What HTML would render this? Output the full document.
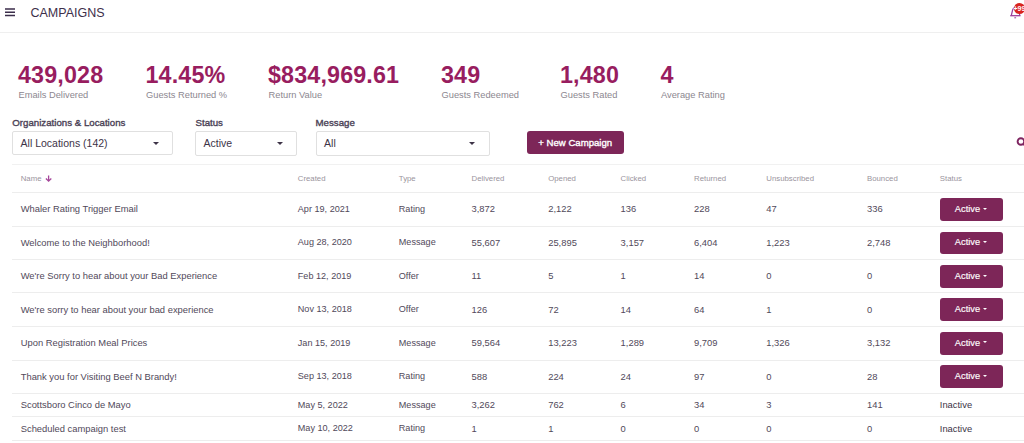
<!DOCTYPE html>
<html><head><meta charset="utf-8"><title>Campaigns</title>
<style>
html,body{margin:0;padding:0;background:#fff;}
body{width:1024px;height:443px;overflow:hidden;position:relative;font-family:"Liberation Sans",sans-serif;}
.t{position:absolute;line-height:1;white-space:nowrap;}
.b{position:absolute;}
</style></head><body>
<div class="b" style="left:0px;top:32px;width:1024px;height:1px;background:#efefef"></div>
<svg class="b" style="left:0;top:0" width="20" height="20" viewBox="0 0 20 20"><path d="M5 9H15M5 12.2H15M5 15.4H15" stroke="#3b2d4a" stroke-width="1.5"/></svg>
<div class="t" style="left:30.50px;top:6.72px;font-size:12.5px;color:#3d2f4a;">CAMPAIGNS</div>
<svg class="b" style="left:1000px;top:0px" width="24" height="24" viewBox="0 0 24 24"><path d="M11.3 15.5 L12.6 10 Q13.2 7.6 15 7.6 L18.5 9 L19.8 15.5" fill="none" stroke="#9b3d9a" stroke-width="1.2"/><path d="M10.2 15.7 H20.5" stroke="#9b3d9a" stroke-width="1.3"/><path d="M14.3 17.8 h1.8" stroke="#9b3d9a" stroke-width="1"/></svg>
<div class="b" style="left:1014px;top:2.5px;width:11px;height:11px;border-radius:50%;background:#d8231f"></div>
<div class="t" style="left:1013.50px;top:5.27px;font-size:7px;color:#fff;font-weight:bold;">+99</div>
<div class="t" style="left:18.00px;top:63.58px;font-size:23.3px;color:#981d5f;font-weight:bold;letter-spacing:0.15px;">439,028</div>
<div class="t" style="left:18.50px;top:90.73px;font-size:9.3px;color:#8c8790;">Emails Delivered</div>
<div class="t" style="left:145.50px;top:63.58px;font-size:23.3px;color:#981d5f;font-weight:bold;letter-spacing:0.15px;">14.45%</div>
<div class="t" style="left:146.00px;top:90.73px;font-size:9.3px;color:#8c8790;">Guests Returned %</div>
<div class="t" style="left:268.00px;top:63.58px;font-size:23.3px;color:#981d5f;font-weight:bold;letter-spacing:0.15px;">$834,969.61</div>
<div class="t" style="left:268.50px;top:90.73px;font-size:9.3px;color:#8c8790;">Return Value</div>
<div class="t" style="left:441.00px;top:63.58px;font-size:23.3px;color:#981d5f;font-weight:bold;letter-spacing:0.15px;">349</div>
<div class="t" style="left:441.50px;top:90.73px;font-size:9.3px;color:#8c8790;">Guests Redeemed</div>
<div class="t" style="left:560.00px;top:63.58px;font-size:23.3px;color:#981d5f;font-weight:bold;letter-spacing:0.15px;">1,480</div>
<div class="t" style="left:560.50px;top:90.73px;font-size:9.3px;color:#8c8790;">Guests Rated</div>
<div class="t" style="left:660.50px;top:63.58px;font-size:23.3px;color:#981d5f;font-weight:bold;letter-spacing:0.15px;">4</div>
<div class="t" style="left:661.00px;top:90.73px;font-size:9.3px;color:#8c8790;">Average Rating</div>
<div class="t" style="left:12.30px;top:117.89px;font-size:9.7px;color:#4a3f55;-webkit-text-stroke:0.35px #4a3f55;">Organizations &amp; Locations</div>
<div class="t" style="left:195.50px;top:117.89px;font-size:9.7px;color:#4a3f55;-webkit-text-stroke:0.35px #4a3f55;">Status</div>
<div class="t" style="left:315.50px;top:117.89px;font-size:9.7px;color:#4a3f55;-webkit-text-stroke:0.35px #4a3f55;">Message</div>
<div class="b" style="left:12px;top:131px;width:161px;height:23.5px;border:1px solid #e0e0e0;border-radius:2px;box-sizing:border-box"></div>
<div class="t" style="left:20.60px;top:138.11px;font-size:10.5px;color:#3d3347;">All Locations (142)</div>
<div class="b" style="left:152.7px;top:142px;width:0;height:0;border-left:3.3px solid transparent;border-right:3.3px solid transparent;border-top:3.5px solid #3d3347"></div>
<div class="b" style="left:195px;top:131px;width:102px;height:24.5px;border:1px solid #e0e0e0;border-radius:2px;box-sizing:border-box"></div>
<div class="t" style="left:203.60px;top:138.11px;font-size:10.5px;color:#3d3347;">Active</div>
<div class="b" style="left:276.7px;top:142px;width:0;height:0;border-left:3.3px solid transparent;border-right:3.3px solid transparent;border-top:3.5px solid #3d3347"></div>
<div class="b" style="left:315.5px;top:131px;width:174px;height:25px;border:1px solid #e0e0e0;border-radius:2px;box-sizing:border-box"></div>
<div class="t" style="left:324.10px;top:138.11px;font-size:10.5px;color:#3d3347;">All</div>
<div class="b" style="left:469.2px;top:142px;width:0;height:0;border-left:3.3px solid transparent;border-right:3.3px solid transparent;border-top:3.5px solid #3d3347"></div>
<div class="b" style="left:527px;top:131px;width:96.5px;height:23px;background:#7d2658;border-radius:3px"></div>
<div class="t" style="left:538.30px;top:137.87px;font-size:9.6px;color:#fff;-webkit-text-stroke:0.35px #fff;">+ New Campaign</div>
<svg class="b" style="left:1010px;top:130px" width="14" height="24" viewBox="0 0 14 24"><circle cx="10.9" cy="11.5" r="3.3" fill="none" stroke="#7e2460" stroke-width="1.9"/><path d="M13.2 13.8 L16 16.6" stroke="#7e2460" stroke-width="2"/></svg>
<div class="b" style="left:12px;top:164px;width:1012px;height:1px;background:#f1f1f1"></div>
<div class="b" style="left:12px;top:192px;width:1012px;height:1px;background:#ededed"></div>
<div class="b" style="left:12px;top:226px;width:1012px;height:1px;background:#ededed"></div>
<div class="b" style="left:12px;top:259px;width:1012px;height:1px;background:#ededed"></div>
<div class="b" style="left:12px;top:292px;width:1012px;height:1px;background:#ededed"></div>
<div class="b" style="left:12px;top:326px;width:1012px;height:1px;background:#ededed"></div>
<div class="b" style="left:12px;top:360px;width:1012px;height:1px;background:#ededed"></div>
<div class="b" style="left:12px;top:393px;width:1012px;height:1px;background:#ededed"></div>
<div class="b" style="left:12px;top:416px;width:1012px;height:1px;background:#ededed"></div>
<div class="b" style="left:12px;top:440px;width:1012px;height:1px;background:#ededed"></div>
<div class="t" style="left:20.70px;top:175.00px;font-size:7.8px;color:#9a949d;">Name</div>
<div class="t" style="left:297.80px;top:175.00px;font-size:7.8px;color:#9a949d;">Created</div>
<div class="t" style="left:398.80px;top:175.00px;font-size:7.8px;color:#9a949d;">Type</div>
<div class="t" style="left:471.50px;top:175.00px;font-size:7.8px;color:#9a949d;">Delivered</div>
<div class="t" style="left:548.20px;top:175.00px;font-size:7.8px;color:#9a949d;">Opened</div>
<div class="t" style="left:620.60px;top:175.00px;font-size:7.8px;color:#9a949d;">Clicked</div>
<div class="t" style="left:694.00px;top:175.00px;font-size:7.8px;color:#9a949d;">Returned</div>
<div class="t" style="left:766.30px;top:175.00px;font-size:7.8px;color:#9a949d;">Unsubscribed</div>
<div class="t" style="left:867.00px;top:175.00px;font-size:7.8px;color:#9a949d;">Bounced</div>
<div class="t" style="left:939.80px;top:175.00px;font-size:7.8px;color:#9a949d;">Status</div>
<svg class="b" style="left:45px;top:174.5px" width="8" height="8" viewBox="0 0 8 8"><path d="M3.6 0.6 V6.1 M0.9 3.5 L3.6 6.2 L6.3 3.5" fill="none" stroke="#a5479a" stroke-width="1.3"/></svg>
<div class="t" style="left:20.70px;top:204.34px;font-size:9.4px;color:#51495a;">Whaler Rating Trigger Email</div>
<div class="t" style="left:297.80px;top:204.60px;font-size:9.1px;color:#51495a;">Apr 19, 2021</div>
<div class="t" style="left:398.80px;top:204.60px;font-size:9.1px;color:#51495a;">Rating</div>
<div class="t" style="left:471.50px;top:204.34px;font-size:9.4px;color:#51495a;">3,872</div>
<div class="t" style="left:548.20px;top:204.34px;font-size:9.4px;color:#51495a;">2,122</div>
<div class="t" style="left:620.60px;top:204.34px;font-size:9.4px;color:#51495a;">136</div>
<div class="t" style="left:694.00px;top:204.34px;font-size:9.4px;color:#51495a;">228</div>
<div class="t" style="left:766.30px;top:204.34px;font-size:9.4px;color:#51495a;">47</div>
<div class="t" style="left:867.00px;top:204.34px;font-size:9.4px;color:#51495a;">336</div>
<div class="b" style="left:940px;top:197.9px;width:63px;height:22.8px;background:#7d2658;border-radius:3px"></div>
<div class="t" style="left:954.80px;top:204.63px;font-size:9.3px;color:#fff;-webkit-text-stroke:0.15px #fff;">Active</div>
<div class="b" style="left:982.8px;top:207.5px;width:0;height:0;border-left:2.6px solid transparent;border-right:2.6px solid transparent;border-top:2.6px solid #fff"></div>
<div class="t" style="left:20.70px;top:237.94px;font-size:9.4px;color:#51495a;">Welcome to the Neighborhood!</div>
<div class="t" style="left:297.80px;top:238.20px;font-size:9.1px;color:#51495a;">Aug 28, 2020</div>
<div class="t" style="left:398.80px;top:238.20px;font-size:9.1px;color:#51495a;">Message</div>
<div class="t" style="left:471.50px;top:237.94px;font-size:9.4px;color:#51495a;">55,607</div>
<div class="t" style="left:548.20px;top:237.94px;font-size:9.4px;color:#51495a;">25,895</div>
<div class="t" style="left:620.60px;top:237.94px;font-size:9.4px;color:#51495a;">3,157</div>
<div class="t" style="left:694.00px;top:237.94px;font-size:9.4px;color:#51495a;">6,404</div>
<div class="t" style="left:766.30px;top:237.94px;font-size:9.4px;color:#51495a;">1,223</div>
<div class="t" style="left:867.00px;top:237.94px;font-size:9.4px;color:#51495a;">2,748</div>
<div class="b" style="left:940px;top:231.5px;width:63px;height:22.8px;background:#7d2658;border-radius:3px"></div>
<div class="t" style="left:954.80px;top:238.23px;font-size:9.3px;color:#fff;-webkit-text-stroke:0.15px #fff;">Active</div>
<div class="b" style="left:982.8px;top:241.1px;width:0;height:0;border-left:2.6px solid transparent;border-right:2.6px solid transparent;border-top:2.6px solid #fff"></div>
<div class="t" style="left:20.70px;top:271.39px;font-size:9.4px;color:#51495a;">We&#39;re Sorry to hear about your Bad Experience</div>
<div class="t" style="left:297.80px;top:271.65px;font-size:9.1px;color:#51495a;">Feb 12, 2019</div>
<div class="t" style="left:398.80px;top:271.65px;font-size:9.1px;color:#51495a;">Offer</div>
<div class="t" style="left:471.50px;top:271.39px;font-size:9.4px;color:#51495a;">11</div>
<div class="t" style="left:548.20px;top:271.39px;font-size:9.4px;color:#51495a;">5</div>
<div class="t" style="left:620.60px;top:271.39px;font-size:9.4px;color:#51495a;">1</div>
<div class="t" style="left:694.00px;top:271.39px;font-size:9.4px;color:#51495a;">14</div>
<div class="t" style="left:766.30px;top:271.39px;font-size:9.4px;color:#51495a;">0</div>
<div class="t" style="left:867.00px;top:271.39px;font-size:9.4px;color:#51495a;">0</div>
<div class="b" style="left:940px;top:264.9px;width:63px;height:22.8px;background:#7d2658;border-radius:3px"></div>
<div class="t" style="left:954.80px;top:271.68px;font-size:9.3px;color:#fff;-webkit-text-stroke:0.15px #fff;">Active</div>
<div class="b" style="left:982.8px;top:274.5px;width:0;height:0;border-left:2.6px solid transparent;border-right:2.6px solid transparent;border-top:2.6px solid #fff"></div>
<div class="t" style="left:20.70px;top:304.74px;font-size:9.4px;color:#51495a;">We&#39;re sorry to hear about your bad experience</div>
<div class="t" style="left:297.80px;top:305.00px;font-size:9.1px;color:#51495a;">Nov 13, 2018</div>
<div class="t" style="left:398.80px;top:305.00px;font-size:9.1px;color:#51495a;">Offer</div>
<div class="t" style="left:471.50px;top:304.74px;font-size:9.4px;color:#51495a;">126</div>
<div class="t" style="left:548.20px;top:304.74px;font-size:9.4px;color:#51495a;">72</div>
<div class="t" style="left:620.60px;top:304.74px;font-size:9.4px;color:#51495a;">14</div>
<div class="t" style="left:694.00px;top:304.74px;font-size:9.4px;color:#51495a;">64</div>
<div class="t" style="left:766.30px;top:304.74px;font-size:9.4px;color:#51495a;">1</div>
<div class="t" style="left:867.00px;top:304.74px;font-size:9.4px;color:#51495a;">0</div>
<div class="b" style="left:940px;top:298.3px;width:63px;height:22.8px;background:#7d2658;border-radius:3px"></div>
<div class="t" style="left:954.80px;top:305.03px;font-size:9.3px;color:#fff;-webkit-text-stroke:0.15px #fff;">Active</div>
<div class="b" style="left:982.8px;top:307.9px;width:0;height:0;border-left:2.6px solid transparent;border-right:2.6px solid transparent;border-top:2.6px solid #fff"></div>
<div class="t" style="left:20.70px;top:338.24px;font-size:9.4px;color:#51495a;">Upon Registration Meal Prices</div>
<div class="t" style="left:297.80px;top:338.50px;font-size:9.1px;color:#51495a;">Jan 15, 2019</div>
<div class="t" style="left:398.80px;top:338.50px;font-size:9.1px;color:#51495a;">Message</div>
<div class="t" style="left:471.50px;top:338.24px;font-size:9.4px;color:#51495a;">59,564</div>
<div class="t" style="left:548.20px;top:338.24px;font-size:9.4px;color:#51495a;">13,223</div>
<div class="t" style="left:620.60px;top:338.24px;font-size:9.4px;color:#51495a;">1,289</div>
<div class="t" style="left:694.00px;top:338.24px;font-size:9.4px;color:#51495a;">9,709</div>
<div class="t" style="left:766.30px;top:338.24px;font-size:9.4px;color:#51495a;">1,326</div>
<div class="t" style="left:867.00px;top:338.24px;font-size:9.4px;color:#51495a;">3,132</div>
<div class="b" style="left:940px;top:331.8px;width:63px;height:22.8px;background:#7d2658;border-radius:3px"></div>
<div class="t" style="left:954.80px;top:338.53px;font-size:9.3px;color:#fff;-webkit-text-stroke:0.15px #fff;">Active</div>
<div class="b" style="left:982.8px;top:341.4px;width:0;height:0;border-left:2.6px solid transparent;border-right:2.6px solid transparent;border-top:2.6px solid #fff"></div>
<div class="t" style="left:20.70px;top:371.84px;font-size:9.4px;color:#51495a;">Thank you for Visiting Beef N Brandy!</div>
<div class="t" style="left:297.80px;top:372.10px;font-size:9.1px;color:#51495a;">Sep 13, 2018</div>
<div class="t" style="left:398.80px;top:372.10px;font-size:9.1px;color:#51495a;">Rating</div>
<div class="t" style="left:471.50px;top:371.84px;font-size:9.4px;color:#51495a;">588</div>
<div class="t" style="left:548.20px;top:371.84px;font-size:9.4px;color:#51495a;">224</div>
<div class="t" style="left:620.60px;top:371.84px;font-size:9.4px;color:#51495a;">24</div>
<div class="t" style="left:694.00px;top:371.84px;font-size:9.4px;color:#51495a;">97</div>
<div class="t" style="left:766.30px;top:371.84px;font-size:9.4px;color:#51495a;">0</div>
<div class="t" style="left:867.00px;top:371.84px;font-size:9.4px;color:#51495a;">28</div>
<div class="b" style="left:940px;top:365.4px;width:63px;height:22.8px;background:#7d2658;border-radius:3px"></div>
<div class="t" style="left:954.80px;top:372.13px;font-size:9.3px;color:#fff;-webkit-text-stroke:0.15px #fff;">Active</div>
<div class="b" style="left:982.8px;top:375.0px;width:0;height:0;border-left:2.6px solid transparent;border-right:2.6px solid transparent;border-top:2.6px solid #fff"></div>
<div class="t" style="left:20.70px;top:400.24px;font-size:9.4px;color:#51495a;">Scottsboro Cinco de Mayo</div>
<div class="t" style="left:297.80px;top:400.50px;font-size:9.1px;color:#51495a;">May 5, 2022</div>
<div class="t" style="left:398.80px;top:400.50px;font-size:9.1px;color:#51495a;">Message</div>
<div class="t" style="left:471.50px;top:400.24px;font-size:9.4px;color:#51495a;">3,262</div>
<div class="t" style="left:548.20px;top:400.24px;font-size:9.4px;color:#51495a;">762</div>
<div class="t" style="left:620.60px;top:400.24px;font-size:9.4px;color:#51495a;">6</div>
<div class="t" style="left:694.00px;top:400.24px;font-size:9.4px;color:#51495a;">34</div>
<div class="t" style="left:766.30px;top:400.24px;font-size:9.4px;color:#51495a;">3</div>
<div class="t" style="left:867.00px;top:400.24px;font-size:9.4px;color:#51495a;">141</div>
<div class="t" style="left:939.80px;top:400.24px;font-size:9.4px;color:#3d3347;">Inactive</div>
<div class="t" style="left:20.70px;top:423.79px;font-size:9.4px;color:#51495a;">Scheduled campaign test</div>
<div class="t" style="left:297.80px;top:424.05px;font-size:9.1px;color:#51495a;">May 10, 2022</div>
<div class="t" style="left:398.80px;top:424.05px;font-size:9.1px;color:#51495a;">Rating</div>
<div class="t" style="left:471.50px;top:423.79px;font-size:9.4px;color:#51495a;">1</div>
<div class="t" style="left:548.20px;top:423.79px;font-size:9.4px;color:#51495a;">1</div>
<div class="t" style="left:620.60px;top:423.79px;font-size:9.4px;color:#51495a;">0</div>
<div class="t" style="left:694.00px;top:423.79px;font-size:9.4px;color:#51495a;">0</div>
<div class="t" style="left:766.30px;top:423.79px;font-size:9.4px;color:#51495a;">0</div>
<div class="t" style="left:867.00px;top:423.79px;font-size:9.4px;color:#51495a;">0</div>
<div class="t" style="left:939.80px;top:423.79px;font-size:9.4px;color:#3d3347;">Inactive</div>
</body></html>
